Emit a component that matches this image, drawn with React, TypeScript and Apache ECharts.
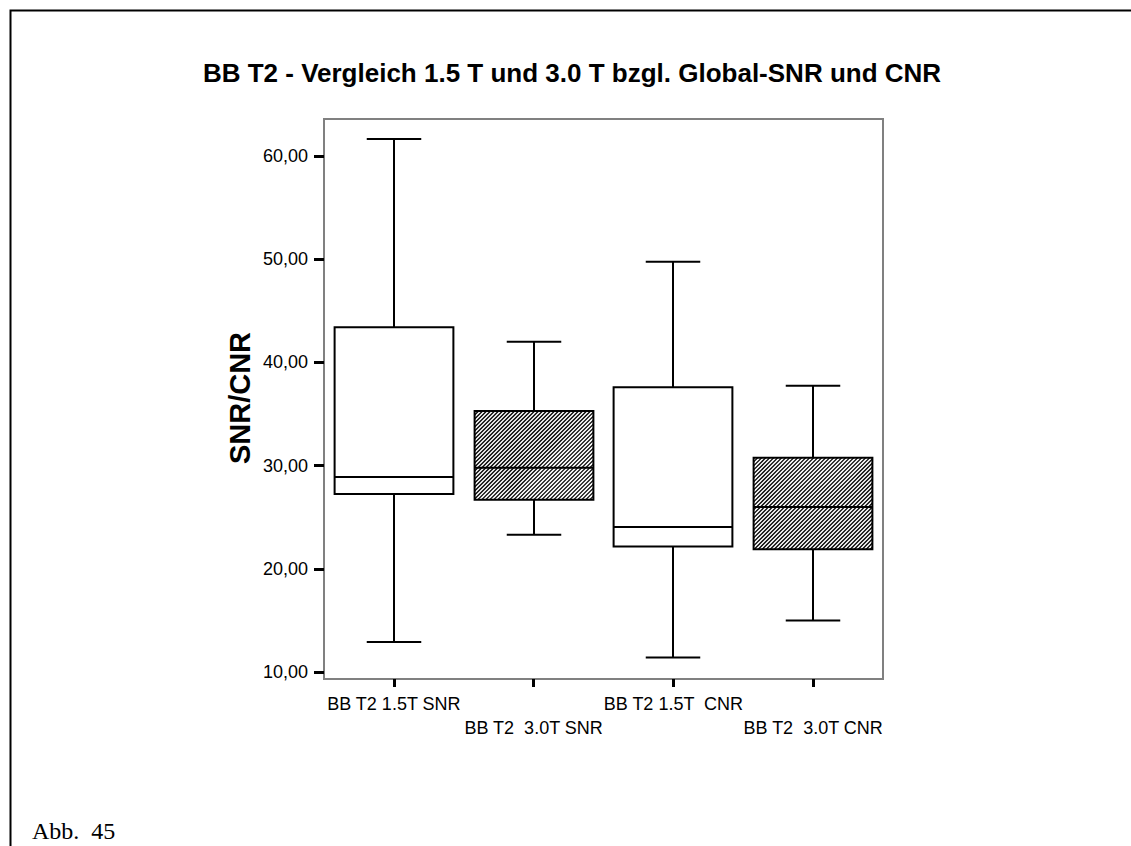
import React, { useEffect, useRef } from "react";
import * as echarts from "echarts";

const categories = ["BB T2 1.5T SNR", "BB T2  3.0T SNR", "BB T2 1.5T  CNR", "BB T2  3.0T CNR"];
const lowerWhisker = [12.9, 23.3, 11.4, 15.0];
const lowerQuartile = [27.25, 26.7, 22.15, 21.9];
const medianValues = [28.9, 29.8, 24.05, 26.0];
const upperQuartile = [43.4, 35.3, 37.6, 30.75];
const upperWhisker = [61.65, 42.0, 49.75, 37.75];
const hatched = [false, true, false, true];
const yTickValues = [10, 20, 30, 40, 50, 60];
const titleText = "BB T2 - Vergleich 1.5 T und 3.0 T bzgl. Global-SNR und CNR";
const yAxisTitle = "SNR/CNR";
const figureLabel = "Abb.  45";

const SANS = '"Liberation Sans", Arial, sans-serif';
const SERIF = '"Liberation Serif", "Times New Roman", serif';

const renderItem = (params: any, api: any) => {
  const i = api.value(0);
  const pLo = api.coord([i, api.value(1)]);
  const pQ1 = api.coord([i, api.value(2)]);
  const pMed = api.coord([i, api.value(3)]);
  const pQ3 = api.coord([i, api.value(4)]);
  const pHi = api.coord([i, api.value(5)]);
  const band = api.size([1, 0])[0];
  const cx = Math.round(pMed[0]);
  const boxW = band * 0.85;
  const capW = band * 0.39;
  const x0 = cx - boxW / 2;
  const x1 = cx + boxW / 2;
  const yTop = pQ3[1];
  const yBot = pQ1[1];
  const line = (xa: number, ya: number, xb: number, yb: number, w = 2) => ({
    type: "line",
    shape: { x1: xa, y1: ya, x2: xb, y2: yb },
    style: { stroke: "#000", lineWidth: w, fill: "none" },
  });
  const children: any[] = [];
  children.push({
    type: "rect",
    shape: { x: x0, y: yTop, width: boxW, height: yBot - yTop },
    style: { fill: "#fff", stroke: "none" },
  });
  if (hatched[i]) {
    const step = 4;
    for (let c = x0 + yTop; c <= x1 + yBot; c += step) {
      const xa = Math.max(x0, c - yBot);
      const xb = Math.min(x1, c - yTop);
      if (xb > xa) children.push(line(xa, c - xa, xb, c - xb, 1.3));
    }
  }
  children.push({
    type: "rect",
    shape: { x: x0, y: yTop, width: boxW, height: yBot - yTop },
    style: { fill: "none", stroke: "#000", lineWidth: 2 },
  });
  children.push(line(x0, pMed[1], x1, pMed[1]));
  children.push(line(cx, yTop, cx, pHi[1]));
  children.push(line(cx, yBot, cx, pLo[1]));
  children.push(line(cx - capW / 2, pHi[1], cx + capW / 2, pHi[1]));
  children.push(line(cx - capW / 2, pLo[1], cx + capW / 2, pLo[1]));
  return { type: "group", children };
};

export default function App() {
  const ref = useRef<HTMLDivElement>(null);
  useEffect(() => {
    if (!ref.current) return;
    const chart = echarts.init(ref.current, null, { renderer: "svg" });
    const data = categories.map((_, i) => [
      i,
      lowerWhisker[i],
      lowerQuartile[i],
      medianValues[i],
      upperQuartile[i],
      upperWhisker[i],
    ]);
    chart.setOption({
      animation: false,
      backgroundColor: "#fff",
      grid: {
        left: 324,
        top: 119,
        width: 559,
        height: 560,
        show: true,
        borderColor: "#808080",
        borderWidth: 2,
        backgroundColor: "transparent",
      },
      xAxis: {
        type: "category",
        data: categories,
        boundaryGap: true,
        axisLine: { show: true, lineStyle: { color: "#808080", width: 2 } },
        axisTick: { show: true, alignWithLabel: true, interval: 0, length: 8, lineStyle: { color: "#000", width: 3 } },
        axisLabel: {
          interval: 0,
          color: "#000",
          fontFamily: SANS,
          fontSize: 18,
          lineHeight: 24,
          margin: 13,
          formatter: (v: string, idx: number) => (idx % 2 ? "\n" + v : v),
        },
        splitLine: { show: false },
      },
      yAxis: {
        type: "value",
        min: 9.32,
        max: 63.59,
        axisLine: { show: true, lineStyle: { color: "#808080", width: 2 } },
        axisTick: { show: true, length: 10, customValues: yTickValues, lineStyle: { color: "#000", width: 3 } },
        axisLabel: {
          customValues: yTickValues,
          color: "#000",
          fontFamily: SANS,
          fontSize: 18,
          margin: 16,
          formatter: (v: number) => v.toFixed(2).replace(".", ","),
        },
        splitLine: { show: false },
      },
      series: [
        {
          type: "custom",
          renderItem,
          data,
          encode: { x: 0, y: [1, 2, 3, 4, 5] },
          silent: true,
        },
      ],
      graphic: [
        {
          type: "polyline",
          shape: { points: [[10.5, 846], [10.5, 10.5], [1131, 10.5]] },
          style: { stroke: "#000", lineWidth: 2, fill: "none" },
          silent: true,
        },
        {
          type: "text",
          x: 572,
          y: 73,
          style: {
            text: titleText,
            font: "bold 26px " + SANS,
            fill: "#000",
            textAlign: "center",
            textVerticalAlign: "middle",
            align: "center",
            verticalAlign: "middle",
          },
        },
        {
          type: "text",
          x: 240,
          y: 398,
          rotation: Math.PI / 2,
          style: {
            text: yAxisTitle,
            font: "bold 29px " + SANS,
            fill: "#000",
            textAlign: "center",
            textVerticalAlign: "middle",
            align: "center",
            verticalAlign: "middle",
          },
        },
        {
          type: "text",
          x: 32,
          y: 831,
          style: {
            text: figureLabel,
            font: "24px " + SERIF,
            fill: "#000",
            textAlign: "left",
            textVerticalAlign: "middle",
            align: "left",
            verticalAlign: "middle",
          },
        },
      ],
    });
    return () => chart.dispose();
  }, []);
  return (
    <div
      ref={ref}
      style={{ position: "fixed", left: 0, top: 0, width: 1131, height: 846 }}
    />
  );
}
